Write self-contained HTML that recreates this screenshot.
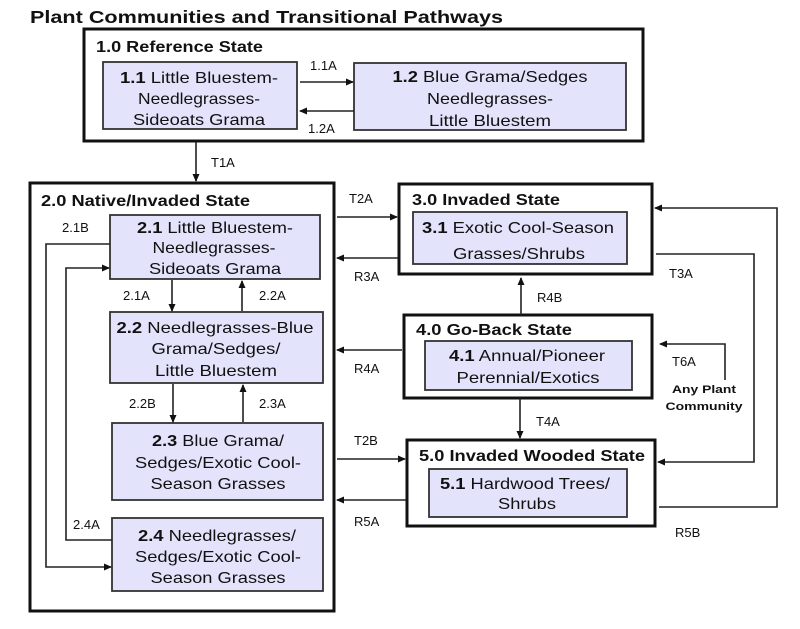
<!DOCTYPE html>
<html><head><meta charset="utf-8"><style>
body{margin:0;background:#fff}
svg{display:block}
text{font-family:"Liberation Sans",Arial,sans-serif;fill:#111}
.t{font-size:16px}
.h{font-size:15.5px;font-weight:bold}
.l{font-size:13px}
.n{fill:#e3e3fb;stroke:#333;stroke-width:1.8}
.s{fill:none;stroke:#111;stroke-width:3}
.a{fill:none;stroke:#222;stroke-width:1.6;marker-end:url(#m)}
</style></head><body>
<svg width="800" height="629" viewBox="0 0 800 629">
<defs><marker id="m" markerWidth="8" markerHeight="8" refX="7" refY="4" orient="auto" markerUnits="userSpaceOnUse"><path d="M0,0.5 L8,4 L0,7.5z" fill="#111"/></marker></defs>
<text x="30" y="23" style="font-size:17.5px;font-weight:bold" textLength="473" lengthAdjust="spacingAndGlyphs">Plant Communities and Transitional Pathways</text>

<rect class="s" x="84" y="29" width="559" height="112"/>
<text class="h" x="96" y="52" textLength="167" lengthAdjust="spacingAndGlyphs">1.0 Reference State</text>
<rect class="n" x="103" y="62" width="194" height="67"/>
<text class="t" text-anchor="middle" x="199" y="83" textLength="158" lengthAdjust="spacingAndGlyphs"><tspan font-weight="bold">1.1</tspan> Little Bluestem-</text>
<text class="t" text-anchor="middle" x="199" y="104" textLength="122" lengthAdjust="spacingAndGlyphs">Needlegrasses-</text>
<text class="t" text-anchor="middle" x="199" y="125" textLength="132" lengthAdjust="spacingAndGlyphs">Sideoats Grama</text>
<rect class="n" x="354" y="63" width="272" height="67"/>
<text class="t" text-anchor="middle" x="490" y="82" textLength="195" lengthAdjust="spacingAndGlyphs"><tspan font-weight="bold">1.2</tspan> Blue Grama/Sedges</text>
<text class="t" text-anchor="middle" x="490" y="104" textLength="126" lengthAdjust="spacingAndGlyphs">Needlegrasses-</text>
<text class="t" text-anchor="middle" x="490" y="126" textLength="122" lengthAdjust="spacingAndGlyphs">Little Bluestem</text>
<path class="a" d="M300,82 H353"/><text class="l" x="310" y="70">1.1A</text>
<path class="a" d="M354,111 H300"/><text class="l" x="308" y="133">1.2A</text>
<path class="a" d="M196,142 V181"/><text class="l" x="211" y="167">T1A</text>

<rect class="s" x="30" y="183" width="304" height="428"/>
<text class="h" x="41" y="206" textLength="209" lengthAdjust="spacingAndGlyphs">2.0 Native/Invaded State</text>
<rect class="n" x="110" y="215" width="210" height="64"/>
<text class="t" text-anchor="middle" x="215" y="233" textLength="156" lengthAdjust="spacingAndGlyphs"><tspan font-weight="bold">2.1</tspan> Little Bluestem-</text>
<text class="t" text-anchor="middle" x="214" y="253" textLength="123" lengthAdjust="spacingAndGlyphs">Needlegrasses-</text>
<text class="t" text-anchor="middle" x="215" y="274" textLength="132" lengthAdjust="spacingAndGlyphs">Sideoats Grama</text>
<rect class="n" x="110" y="312" width="213" height="71"/>
<text class="t" text-anchor="middle" x="215" y="333" textLength="197" lengthAdjust="spacingAndGlyphs"><tspan font-weight="bold">2.2</tspan> Needlegrasses-Blue</text>
<text class="t" text-anchor="middle" x="216" y="354" textLength="129" lengthAdjust="spacingAndGlyphs">Grama/Sedges/</text>
<text class="t" text-anchor="middle" x="216" y="376" textLength="122" lengthAdjust="spacingAndGlyphs">Little Bluestem</text>
<rect class="n" x="112" y="423" width="211" height="77"/>
<text class="t" text-anchor="middle" x="218" y="446" textLength="132" lengthAdjust="spacingAndGlyphs"><tspan font-weight="bold">2.3</tspan> Blue Grama/</text>
<text class="t" text-anchor="middle" x="218" y="468" textLength="166" lengthAdjust="spacingAndGlyphs">Sedges/Exotic Cool-</text>
<text class="t" text-anchor="middle" x="218" y="489" textLength="135" lengthAdjust="spacingAndGlyphs">Season Grasses</text>
<rect class="n" x="112" y="518" width="211" height="73"/>
<text class="t" text-anchor="middle" x="217" y="541" textLength="158" lengthAdjust="spacingAndGlyphs"><tspan font-weight="bold">2.4</tspan> Needlegrasses/</text>
<text class="t" text-anchor="middle" x="218" y="562" textLength="166" lengthAdjust="spacingAndGlyphs">Sedges/Exotic Cool-</text>
<text class="t" text-anchor="middle" x="218" y="583" textLength="135" lengthAdjust="spacingAndGlyphs">Season Grasses</text>
<path class="a" d="M172,280 V311"/><text class="l" x="123" y="300">2.1A</text>
<path class="a" d="M242,311 V281"/><text class="l" x="259" y="300">2.2A</text>
<path class="a" d="M173,384 V422"/><text class="l" x="129" y="408">2.2B</text>
<path class="a" d="M243,422 V385"/><text class="l" x="259" y="408">2.3A</text>
<path class="a" d="M110,244 H46 V567 H111"/><text class="l" x="62" y="232">2.1B</text>
<path class="a" d="M112,540 H66 V268 H109"/><text class="l" x="73" y="529">2.4A</text>

<rect class="s" x="399" y="184" width="253" height="90"/>
<text class="h" x="412" y="205" textLength="148" lengthAdjust="spacingAndGlyphs">3.0 Invaded State</text>
<rect class="n" x="413" y="212" width="214" height="52"/>
<text class="t" text-anchor="middle" x="518" y="233" textLength="192" lengthAdjust="spacingAndGlyphs"><tspan font-weight="bold">3.1</tspan> Exotic Cool-Season</text>
<text class="t" text-anchor="middle" x="519" y="259" textLength="132" lengthAdjust="spacingAndGlyphs">Grasses/Shrubs</text>

<rect class="s" x="404" y="315" width="248" height="83"/>
<text class="h" x="416" y="335" textLength="156" lengthAdjust="spacingAndGlyphs">4.0 Go-Back State</text>
<rect class="n" x="425" y="341" width="207" height="49"/>
<text class="t" text-anchor="middle" x="527" y="361" textLength="156" lengthAdjust="spacingAndGlyphs"><tspan font-weight="bold">4.1</tspan> Annual/Pioneer</text>
<text class="t" text-anchor="middle" x="528" y="383" textLength="143" lengthAdjust="spacingAndGlyphs">Perennial/Exotics</text>

<rect class="s" x="407" y="440" width="248" height="86"/>
<text class="h" x="419" y="461" textLength="226" lengthAdjust="spacingAndGlyphs">5.0 Invaded Wooded State</text>
<rect class="n" x="429" y="469" width="198" height="48"/>
<text class="t" text-anchor="middle" x="525" y="489" textLength="170" lengthAdjust="spacingAndGlyphs"><tspan font-weight="bold">5.1</tspan> Hardwood Trees/</text>
<text class="t" text-anchor="middle" x="527" y="509" textLength="58" lengthAdjust="spacingAndGlyphs">Shrubs</text>

<path class="a" d="M337,217 H397"/><text class="l" x="349" y="203">T2A</text>
<path class="a" d="M398,258 H337"/><text class="l" x="354" y="281">R3A</text>
<path class="a" d="M402,350 H337"/><text class="l" x="354" y="373">R4A</text>
<path class="a" d="M337,459 H405"/><text class="l" x="354" y="445">T2B</text>
<path class="a" d="M406,500 H337"/><text class="l" x="354" y="526">R5A</text>
<path class="a" d="M521,315 V278"/><text class="l" x="537" y="302">R4B</text>
<path class="a" d="M520,398 V438"/><text class="l" x="536" y="426">T4A</text>
<path class="a" d="M656,254 H754 V462 H658"/><text class="l" x="669" y="278">T3A</text>
<path class="a" d="M659,507 H777 V208 H655"/><text class="l" x="675" y="537">R5B</text>
<path class="a" d="M725,380 V344 H660"/><text class="l" x="672" y="366">T6A</text>
<text x="704" y="393" style="font-size:11px;font-weight:bold" text-anchor="middle" textLength="64" lengthAdjust="spacingAndGlyphs">Any Plant</text>
<text x="704" y="410" style="font-size:11px;font-weight:bold" text-anchor="middle" textLength="77" lengthAdjust="spacingAndGlyphs">Community</text>
</svg>
</body></html>
